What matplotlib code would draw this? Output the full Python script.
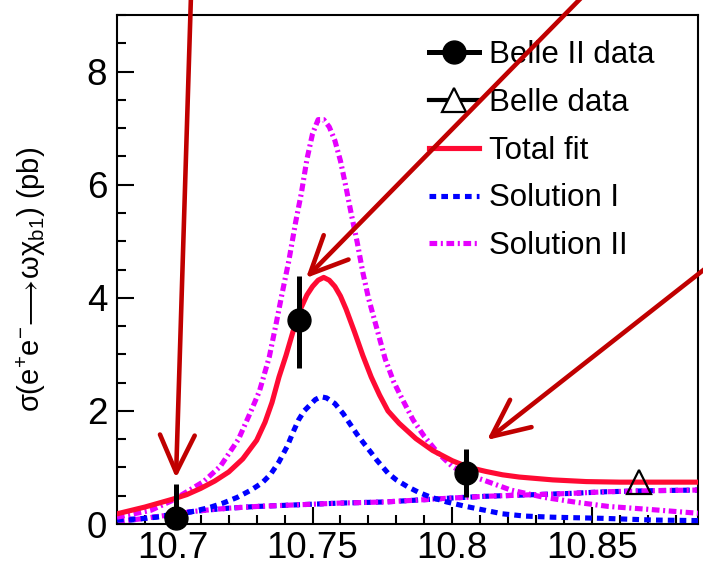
import matplotlib
matplotlib.use('Agg')
import matplotlib.pyplot as plt
from matplotlib.lines import Line2D
from matplotlib.ticker import MultipleLocator, FixedLocator, FixedFormatter

plt.rcParams['font.family'] = ['Liberation Sans', 'DejaVu Sans']
plt.rcParams['mathtext.fontset'] = 'custom'
plt.rcParams['mathtext.rm'] = 'Liberation Sans'
plt.rcParams['mathtext.it'] = 'Liberation Sans:italic'
plt.rcParams['mathtext.bf'] = 'Liberation Sans:bold'
plt.rcParams['mathtext.default'] = 'regular'

# ---------------- data ----------------
belle2_x = [10.701, 10.745, 10.805]
belle2_y = [0.10, 3.60, 0.90]
belle2_err_lo = [0.10, 0.84, 0.43]
belle2_err_hi = [0.60, 0.79, 0.43]

belle_x = [10.867]
belle_y = [0.75]

fit_x = [10.680, 10.690, 10.700, 10.705, 10.710, 10.715, 10.720, 10.725, 10.730,
         10.733, 10.7355, 10.738, 10.7405, 10.743, 10.7455, 10.748, 10.750, 10.752,
         10.754, 10.756, 10.758, 10.760, 10.762, 10.765, 10.768, 10.771, 10.774,
         10.777, 10.781, 10.787, 10.793, 10.800, 10.806, 10.812, 10.818, 10.824,
         10.836, 10.848, 10.860, 10.875, 10.888]
fit_y = [0.18, 0.30, 0.44, 0.52, 0.63, 0.76, 0.92, 1.15, 1.48,
         1.80, 2.15, 2.60, 2.98, 3.40, 3.78, 4.05, 4.20, 4.31,
         4.36, 4.31, 4.20, 4.03, 3.80, 3.40, 2.98, 2.60, 2.28,
         2.00, 1.78, 1.51, 1.30, 1.12, 1.00, 0.93, 0.87, 0.83,
         0.78, 0.75, 0.74, 0.74, 0.74]

sol1_x = [10.680, 10.690, 10.700, 10.707, 10.713, 10.718, 10.723, 10.728, 10.732,
          10.735, 10.738, 10.741, 10.743, 10.745, 10.747, 10.749, 10.751, 10.753,
          10.755, 10.758, 10.761, 10.763, 10.766, 10.768, 10.771, 10.773, 10.777,
          10.780, 10.784, 10.788, 10.792, 10.798, 10.805, 10.812, 10.818, 10.826,
          10.836, 10.854, 10.872, 10.888]
sol1_y = [0.07, 0.10, 0.15, 0.22, 0.29, 0.37, 0.47, 0.60, 0.73,
          0.88, 1.10, 1.38, 1.62, 1.84, 2.00, 2.10, 2.20, 2.25,
          2.23, 2.13, 1.95, 1.80, 1.58, 1.45, 1.26, 1.13, 0.90,
          0.78, 0.66, 0.56, 0.48, 0.39, 0.31, 0.24, 0.18, 0.14,
          0.12, 0.10, 0.07, 0.06]

sol2_x = [10.680, 10.692, 10.700, 10.706, 10.711, 10.717, 10.7235, 10.728, 10.731,
          10.7345, 10.737, 10.739, 10.7415, 10.744, 10.746, 10.748, 10.750, 10.752,
          10.754, 10.756, 10.758, 10.760, 10.762, 10.764, 10.766, 10.768, 10.770,
          10.7725, 10.776, 10.779, 10.782, 10.786, 10.790, 10.795, 10.800, 10.805,
          10.811, 10.821, 10.833, 10.845, 10.856, 10.870, 10.888]
sol2_y = [0.12, 0.24, 0.42, 0.60, 0.75, 1.02, 1.50, 2.00, 2.35,
          2.95, 3.55, 4.05, 4.65, 5.35, 5.85, 6.45, 6.90, 7.15,
          7.15, 7.02, 6.78, 6.42, 5.95, 5.45, 4.98, 4.45, 4.00,
          3.55, 2.92, 2.52, 2.22, 1.84, 1.55, 1.25, 1.02, 0.88,
          0.78, 0.60, 0.47, 0.38, 0.31, 0.26, 0.19]

cont_x = [10.680, 10.690, 10.700, 10.707, 10.713, 10.720, 10.730, 10.740, 10.750,
          10.760, 10.776, 10.790, 10.800, 10.812, 10.830, 10.842, 10.855, 10.872, 10.888]
cont_y = [0.04, 0.10, 0.17, 0.22, 0.25, 0.28, 0.31, 0.33, 0.35,
          0.37, 0.39, 0.43, 0.46, 0.49, 0.52, 0.54, 0.57, 0.59, 0.60]

x_ticks = [10.7, 10.75, 10.8, 10.85]
x_tick_labels = ['10.7', '10.75', '10.8', '10.85']
y_ticks = [0, 2, 4, 6, 8]
y_tick_labels = ['0', '2', '4', '6', '8']

legend_labels = ['Belle II data', 'Belle data', 'Total fit', 'Solution I', 'Solution II']

# ---------------- styles ----------------
W, H = 703, 565
RED = '#ff0a33'
BLUE = '#0000ff'
MAG = '#e600ff'
ARROW = '#c00000'
LW = 3.7
blue_ls = (0, (1.3, 1.0))
mag_ls = (0, (1.5, 0.7, 0.4, 0.7))

fig = plt.figure(figsize=(W / 100, H / 100), dpi=100)
ax = fig.add_axes([117 / W, 1 - 524 / H, (698 - 117) / W, (524 - 15) / H])

ax.plot(cont_x, cont_y, color=BLUE, lw=LW, ls=blue_ls, zorder=2)
ax.plot(cont_x, cont_y, color=MAG, lw=LW, ls=mag_ls, zorder=2)
ax.plot(sol1_x, sol1_y, color=BLUE, lw=LW, ls=blue_ls, zorder=3)
ax.plot(sol2_x, sol2_y, color=MAG, lw=LW, ls=mag_ls, zorder=3)
ax.plot(fit_x, fit_y, color=RED, lw=LW, zorder=4)

ax.errorbar(belle2_x, belle2_y, yerr=[belle2_err_lo, belle2_err_hi], fmt='o',
            color='k', ms=16.5, elinewidth=3.6, capsize=0, zorder=6, clip_on=False)
ax.plot(belle_x, belle_y, ls='none', marker='^', ms=17, mfc='none', mec='k',
        mew=1.6, zorder=6, clip_on=False)

ax.set_xlim(10.68, 10.888)
ax.set_ylim(0, 9)
ax.xaxis.set_major_locator(FixedLocator(x_ticks))
ax.xaxis.set_major_formatter(FixedFormatter(x_tick_labels))
ax.xaxis.set_minor_locator(MultipleLocator(0.01))
ax.yaxis.set_major_locator(FixedLocator(y_ticks))
ax.yaxis.set_major_formatter(FixedFormatter(y_tick_labels))
ax.yaxis.set_minor_locator(MultipleLocator(0.5))
ax.tick_params(which='both', direction='in', top=False, right=False, width=1.5,
               labelsize=26.5, colors='k')
ax.tick_params(which='major', length=12)
ax.tick_params(axis='x', which='major', pad=5)
ax.tick_params(axis='y', which='major', pad=7)
ax.tick_params(which='minor', length=6.2)
for s in ax.spines.values():
    s.set_linewidth(1.5)

fig.text(31 / W, 1 - 279 / H,
         r'$σ(e^{+}e^{-}\!\longrightarrow\!ωχ_{b1})$ (pb)', rotation=90,
         ha='center', va='center', fontsize=21)

handles = [
    Line2D([], [], color='k', lw=3.6, marker='o', ms=16.5),
    Line2D([], [], color='k', lw=3.0, marker='^', ms=17, mfc='white', mec='k', mew=1.6),
    Line2D([], [], color=RED, lw=LW),
    Line2D([], [], color=BLUE, lw=LW, ls=blue_ls),
    Line2D([], [], color=MAG, lw=LW, ls=mag_ls),
]
leg = ax.legend(handles, legend_labels, loc='upper left', frameon=False,
                bbox_to_anchor=(429 / W, 1 - 40 / H), bbox_transform=fig.transFigure,
                borderaxespad=0, borderpad=0, fontsize=22.5, handlelength=1.6,
                handletextpad=0.33, labelspacing=0.57)

# overlay arrows
def fx(px, py):
    return (px / W, 1 - py / H)

for start, tip in [((191, -5), (176, 478)), ((584, -5), (306, 278)), ((706, 268), (487, 440))]:
    ax.annotate('', xy=fx(*tip), xycoords='figure fraction', xytext=fx(*start),
                textcoords='figure fraction', annotation_clip=False,
                arrowprops=dict(arrowstyle='->,head_length=2.7,head_width=1.25',
                                mutation_scale=10, color=ARROW, lw=3.3,
                                shrinkA=0, shrinkB=0), zorder=10)

fig.savefig('out.png', dpi=100)
